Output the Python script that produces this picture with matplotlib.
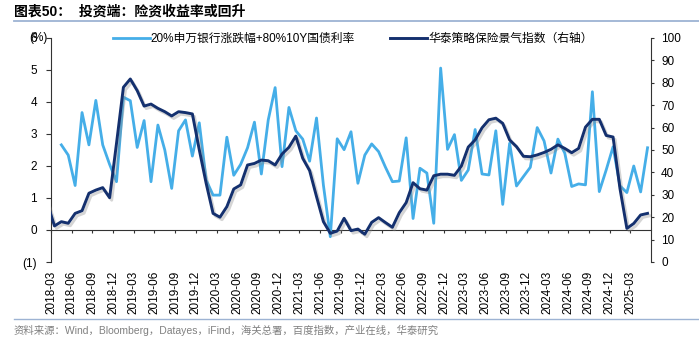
import numpy as np
import pandas as pd
import matplotlib
matplotlib.use('Agg')
import matplotlib.pyplot as plt
import matplotlib.patheffects as pe
from matplotlib.lines import Line2D

plt.rcParams['font.family'] = ['Liberation Sans', 'Noto Sans CJK SC', 'DejaVu Sans']

# 华泰策略保险景气指数（右轴）, monthly, first value 2018-02
insur_idx = [26.0, 16.1, 18.0, 17.3, 21.7, 22.9, 30.7, 32.1, 33.2, 28.7,
             53.0, 78.0, 81.7, 76.5, 69.6, 70.5, 68.6, 67.1, 65.2, 67.1,
             66.7, 66.1, 50.1, 35.1, 21.7, 20.0, 24.7, 32.6, 34.4, 43.3,
             44.0, 45.5, 45.2, 43.3, 48.2, 51.2, 56.2, 46.3, 40.8, 29.2,
             18.0, 12.8, 13.8, 19.5, 14.0, 14.7, 12.4, 17.7, 19.8, 17.6,
             15.5, 22.0, 26.5, 35.4, 32.7, 32.1, 38.5, 39.2, 39.2, 38.7,
             42.8, 51.3, 54.5, 59.9, 63.5, 64.2, 61.9, 54.5, 51.5, 47.2,
             47.0, 47.8, 48.9, 50.3, 52.3, 50.7, 48.8, 50.7, 60.2, 63.7,
             63.7, 56.5, 55.8, 32.8, 15.0, 17.2, 21.0, 21.7]

# 20%申万银行涨跌幅+80%10Y国债利率 (%), monthly, first value 2018-04
yield_mix = [2.66, 2.34, 1.39, 3.67, 2.66, 4.05, 2.66, 2.05, 1.51, 4.15,
             4.04, 2.58, 3.42, 1.51, 3.28, 2.50, 1.30, 3.10, 3.44, 2.31,
             3.35, 1.56, 1.09, 1.09, 2.90, 1.71, 2.05, 2.57, 3.37, 1.75,
             3.44, 4.45, 1.98, 3.83, 3.10, 2.84, 2.15, 3.50, 1.40, -0.21,
             2.85, 2.51, 3.07, 1.46, 2.34, 2.69, 2.45, 1.96, 1.51, 1.53,
             2.88, 0.36, 1.93, 1.78, 0.21, 5.06, 2.52, 2.98, 1.55, 1.875,
             3.14, 1.75, 1.72, 3.10, 0.80, 2.71, 1.375, 1.67, 1.96, 3.20,
             2.78, 1.78, 2.84, 2.40, 1.36, 1.44, 1.41, 4.32, 1.20, 1.875,
             2.60, 1.38, 1.17, 2.00, 1.19, 2.57]

tick_dates = pd.date_range('2018-03-01', '2025-03-01', freq='3MS')
tick_labels = [d.strftime('%Y-%m') for d in tick_dates]
left_labels = ['(1)', '0', '1', '2', '3', '4', '5', '6']
right_labels = [str(v) for v in range(0, 101, 10)]

# month positions, 0 = 2018-03, points sit mid-month
x_idx = np.arange(len(insur_idx)) - 1 + 0.5
x_yld = np.arange(len(yield_mix)) + 1 + 0.5

c_light = '#45AEE8'
c_dark = '#14306E'

fig = plt.figure(figsize=(6.99, 3.51), dpi=100)
ax = fig.add_axes([51 / 699, 1 - 262 / 351, 600 / 699, 224 / 351])
ax2 = ax.twinx()

ax.plot(x_yld, yield_mix, color=c_light, lw=2.0, zorder=3)
ax2.plot(x_idx, insur_idx, color=c_dark, lw=2.1, zorder=3,
         path_effects=[pe.SimpleLineShadow(offset=(1.5, -1.8), shadow_color='#888888', alpha=0.35),
                       pe.Normal()])

ax.set_xlim(0, 87)
ax.set_ylim(-1, 6)
ax2.set_ylim(0, 100)

for s in ['top', 'right']:
    ax.spines[s].set_visible(False)
for s in ['top', 'left', 'bottom']:
    ax2.spines[s].set_visible(False)
ax.spines['bottom'].set_position(('data', 0))
for sp in [ax.spines['left'], ax.spines['bottom'], ax2.spines['right']]:
    sp.set_color('#333333')
    sp.set_linewidth(0.8)

ax.tick_params(axis='y', direction='out', length=3.6, width=0.8, pad=6.5,
               labelsize=8.5, color='#333333')
ax.tick_params(axis='x', direction='out', length=2.5, width=0.8, pad=27,
               labelsize=8.5, color='#333333', labelrotation=90)
ax2.tick_params(axis='y', direction='out', length=2.5, width=0.8, pad=4.8,
                labelsize=8.5, color='#333333')

ax.set_yticks(np.arange(-1, 7))
ax.set_yticklabels(left_labels)
ax2.set_yticks(np.arange(0, 101, 10))
ax2.set_yticklabels(right_labels)
ax.set_xticks(np.arange(0, 85, 3))
ax.set_xticklabels(tick_labels)

fig.text(29 / 699, 1 - 38 / 351, '(%)', ha='left', va='center', fontsize=8.5)

handles = [Line2D([], [], color=c_light, lw=2.0), Line2D([], [], color=c_dark, lw=2.1)]
fig.legend(handles, ['20%申万银行涨跌幅+80%10Y国债利率', '华泰策略保险景气指数（右轴）'],
           loc='center left', bbox_to_anchor=(113 / 699, 1 - 39 / 351), ncol=2,
           frameon=False, borderpad=0, borderaxespad=0, handlelength=3.1,
           handletextpad=0.1, columnspacing=3.0, fontsize=8.5)

# title, rules and source
fig.text(14 / 699, 1 - 12 / 351, '图表50：  投资端：险资收益率或回升', ha='left', va='center',
         fontsize=10, fontweight='bold')
fig.add_artist(Line2D([14 / 699, 1], [1 - 21 / 351] * 2, transform=fig.transFigure,
                      color='#9DB3D3', lw=1.3))
fig.add_artist(Line2D([14 / 699, 1], [1 - 319 / 351] * 2, transform=fig.transFigure,
                      color='#9DB3D3', lw=1.0))
fig.text(14 / 699, 1 - 330 / 351,
         '资料来源：Wind，Bloomberg，Datayes，iFind，海关总署，百度指数，产业在线，华泰研究',
         ha='left', va='center', fontsize=7.5, color='#808080')

fig.savefig('out.png', dpi=100)
